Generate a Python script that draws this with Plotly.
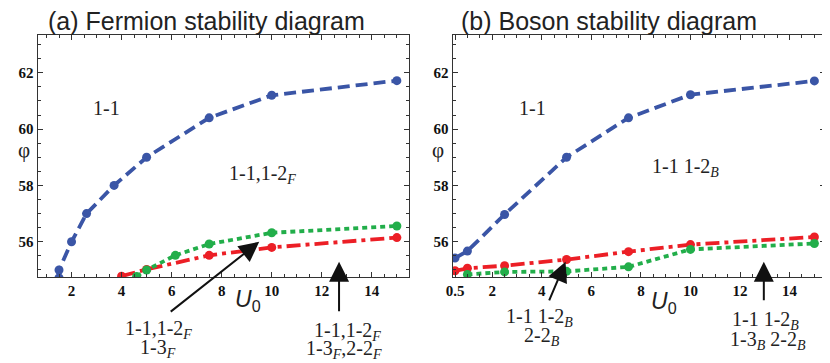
import plotly.graph_objects as go

# page body has an 8px margin; draw the figure 8px smaller and shift coords
OFF = 8
W, H = 830 - OFF, 363 - OFF

# ---- data ----
ferm_blue_x = [1.5, 1.5, 2.0, 2.6, 3.7, 5.0, 7.5, 10.0, 15.0]
ferm_blue_y = [54.72, 55.0, 56.0, 57.0, 58.0, 59.0, 60.4, 61.2, 61.72]
ferm_red_x = [4.0, 5.0, 7.5, 10.0, 15.0]
ferm_red_y = [54.78, 55.02, 55.52, 55.8, 56.15]
ferm_green_x = [4.6, 5.0, 6.15, 7.5, 10.0, 15.0]
ferm_green_y = [54.77, 55.0, 55.52, 55.92, 56.32, 56.56]

bos_blue_x = [0.5, 1.0, 2.5, 5.0, 7.5, 10.0, 15.0]
bos_blue_y = [55.42, 55.67, 56.97, 59.0, 60.4, 61.22, 61.71]
bos_red_x = [0.5, 1.0, 2.5, 5.0, 7.5, 10.0, 15.0]
bos_red_y = [54.97, 55.06, 55.15, 55.37, 55.65, 55.9, 56.17]
bos_green_x = [1.0, 2.5, 5.0, 7.5, 10.0, 15.0]
bos_green_y = [54.84, 54.93, 54.95, 55.11, 55.73, 55.94]

left_xticks = [2, 4, 6, 8, 10, 12, 14]
right_xticks = [0.5, 2, 4, 6, 8, 10, 12, 14]
right_xticklabels = ["0.5", "2", "4", "6", "8", "10", "12", "14"]
yticks = [56, 58, 60, 62]

BLUE = "#3a55a6"
RED = "#ec1f26"
GREEN = "#22ae4a"

fig = go.Figure()

def add_series(x, y, color, dash, xa, ya):
    fig.add_trace(go.Scatter(
        x=x, y=y, mode="lines+markers", xaxis=xa, yaxis=ya,
        line=dict(color=color, width=3.8, dash=dash),
        marker=dict(color=color, size=9),
        cliponaxis=True, showlegend=False))

DASH_B = "12px,6px"
DASH_R = "14px,5px,4px,5px"
DASH_G = "5px,4px"

add_series(ferm_blue_x, ferm_blue_y, BLUE, DASH_B, "x", "y")
add_series(ferm_red_x, ferm_red_y, RED, DASH_R, "x", "y")
add_series(ferm_green_x, ferm_green_y, GREEN, DASH_G, "x", "y")
add_series(bos_blue_x, bos_blue_y, BLUE, DASH_B, "x2", "y2")
add_series(bos_red_x, bos_red_y, RED, DASH_R, "x2", "y2")
add_series(bos_green_x, bos_green_y, GREEN, DASH_G, "x2", "y2")

def fx(x):
    return (x - OFF) / W

def fy(y):
    return 1 - (y - OFF) / H

dom_y = [fy(277), fy(35)]

tickfont = dict(family="Liberation Serif", size=15, color="#111")
minor = dict(dtick=0.5, tick0=0, ticks="inside", ticklen=3, tickcolor="#333")
axis_common = dict(
    showline=True, linecolor="#333", linewidth=1, mirror="allticks",
    ticks="inside", ticklen=5, tickcolor="#333", tickwidth=1,
    showgrid=False, zeroline=False, tickfont=tickfont, minor=minor,
)

def b(vals):
    return ["<b>%s</b>" % v for v in vals]

fig.update_layout(
    width=W, height=H, margin=dict(l=0, r=0, t=0, b=0),
    paper_bgcolor="white", plot_bgcolor="white",
    xaxis=dict(domain=[fx(30.7), fx(405)], range=[0.64, 15.47],
               tickvals=left_xticks, ticktext=b(left_xticks),
               anchor="y", **axis_common),
    yaxis=dict(domain=dom_y, range=[54.75, 63.34], tickvals=yticks, ticktext=b(yticks),
               anchor="x", **axis_common),
    xaxis2=dict(domain=[fx(449.3), fx(825)], range=[0.4, 15.43],
                tickvals=right_xticks, ticktext=b(right_xticklabels),
                anchor="y2", **axis_common),
    yaxis2=dict(domain=dom_y, range=[54.75, 63.34], tickvals=yticks, ticktext=b(yticks),
                anchor="x2", **axis_common),
)

SERIF = "Liberation Serif"
SANS = "Liberation Sans"

def text(x, y, s, size=20, family=SERIF, xanchor="center", color="#222"):
    fig.add_annotation(x=fx(x), y=fy(y), xref="paper", yref="paper", text=s,
                       showarrow=False, xanchor=xanchor, yanchor="middle",
                       font=dict(family=family, size=size, color=color))

# titles
text(201, 21, "(a) Fermion stability diagram", size=25, family=SANS)
text(607, 21, "(b) Boson stability diagram", size=25, family=SANS)

# axis labels
text(17, 150, "φ", size=21, family=SERIF)
text(435, 150, "φ", size=21, family=SERIF)
text(243, 300, "<i>U</i><sub>0</sub>", size=23, family=SANS)
text(663, 302, "<i>U</i><sub>0</sub>", size=23, family=SANS)

# region labels
text(100, 108, "1-1")
text(530, 108, "1-1")
text(258, 174, "1-1,1-2<sub><i>F</i></sub>")
text(684, 167, "1-1 1-2<sub><i>B</i></sub>")

# lower labels
text(153, 329, "1-1,1-2<sub><i>F</i></sub>")
text(152, 348, "1-3<sub><i>F</i></sub>")
text(343, 331, "1-1,1-2<sub><i>F</i></sub>")
text(340, 349, "1-3<sub><i>F</i></sub>,2-2<sub><i>F</i></sub>")
text(537, 317, "1-1 1-2<sub><i>B</i></sub>")
text(540, 336, "2-2<sub><i>B</i></sub>")
text(765, 320, "1-1 1-2<sub><i>B</i></sub>")
text(767, 340, "1-3<sub><i>B</i></sub> 2-2<sub><i>B</i></sub>")

# arrows
def arrow(xa, ya, x, y, ax, ay):
    fig.add_annotation(x=x, y=y, xref=xa, yref=ya, ax=ax, ay=ay,
                       axref="pixel", ayref="pixel", text="", showarrow=True,
                       arrowhead=2, arrowsize=2.0, arrowwidth=2, arrowcolor="#111",
                       standoff=0)

arrow("x", "y", 9.5, 56.0, -90, 71)
arrow("x", "y", 12.69, 55.29, 0, 51)
arrow("x2", "y2", 4.96, 55.29, -17, 40)
arrow("x2", "y2", 12.96, 55.29, 0, 40)

fig.write_html("out.html")
